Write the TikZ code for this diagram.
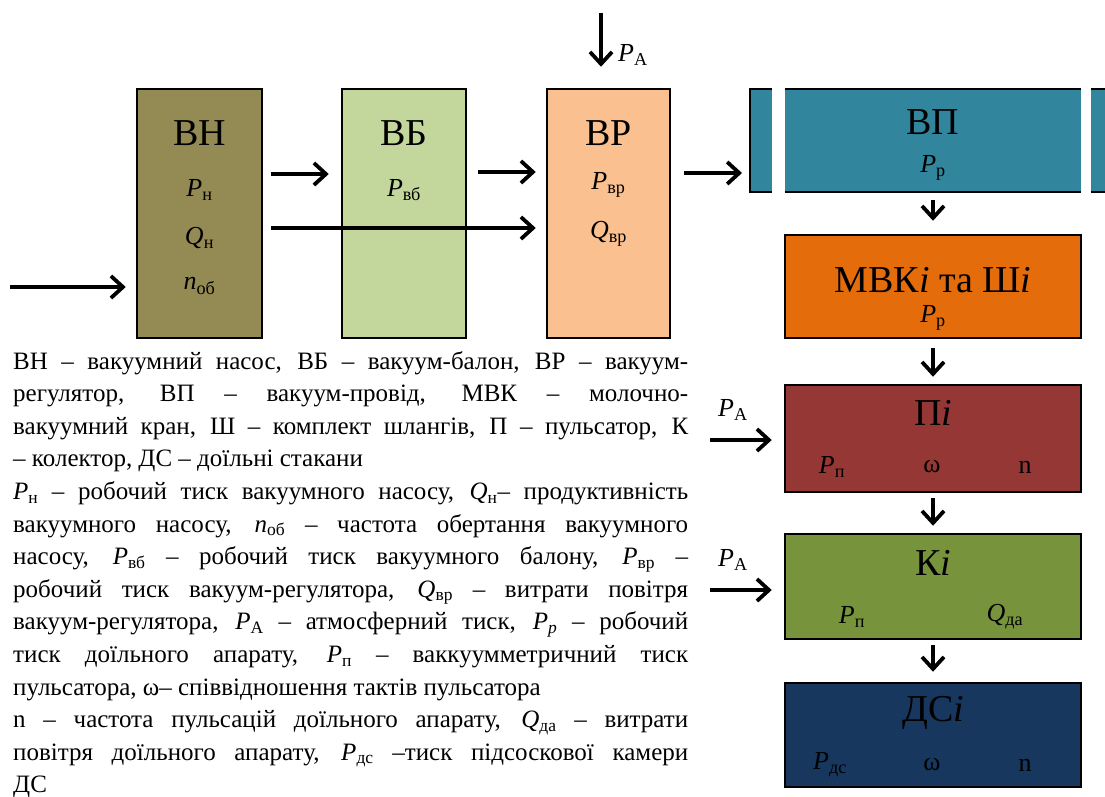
\documentclass[tikz,border=0pt]{standalone}
\usepackage{fontspec}
\setmainfont{Liberation Serif}
\usetikzlibrary{arrows.meta,calc}

\definecolor{vncol}{HTML}{948A54}
\definecolor{vbcol}{HTML}{C3D69B}
\definecolor{vrcol}{HTML}{FAC090}
\definecolor{vpcol}{HTML}{31859C}
\definecolor{mvkcol}{HTML}{E46C0A}
\definecolor{picol}{HTML}{953735}
\definecolor{kicol}{HTML}{77933C}
\definecolor{dscol}{HTML}{17375E}

\newcommand{\sy}[2]{\textit{#1}\textsubscript{#2}}

\begin{document}
\begin{tikzpicture}[x=1pt, y=-1pt,
		box/.style={rectangle, draw, line width=2.5pt, inner sep=0pt},
		big/.style={inner sep=1pt, font=\fontsize{38}{42}\selectfont},
		sym/.style={inner sep=1pt, font=\fontsize{26}{30}\selectfont},
		body/.style={anchor=base west, inner sep=0pt, font=\fontsize{25}{30}\selectfont},
		arr/.style={-{Straight Barb[length=12pt,width=22pt]}, line width=3.8pt}]
			\useasboundingbox (0,0) rectangle (1105,796);

			% Nodes
			\node[box, fill=vncol, minimum width=125pt, minimum height=249pt] (vn) at (199.5,213.5) {};
			\node[box, fill=vbcol, minimum width=124pt, minimum height=249pt] (vb) at (404,213.5) {};
			\node[box, fill=vrcol, minimum width=123pt, minimum height=249pt] (vr) at (608.5,213.5) {};
			\node[fill=vpcol, minimum width=296pt, minimum height=103pt, inner sep=0pt] (vp) at (933,140.5) {};
			\node[box, fill=mvkcol, minimum width=296pt, minimum height=103pt] (mvk) at (933,286.5) {};
			\node[box, fill=picol, minimum width=296pt, minimum height=107pt] (pi) at (933,438.5) {};
			\node[box, fill=kicol, minimum width=296pt, minimum height=105pt] (ki) at (933,586.5) {};
			\node[box, fill=dscol, minimum width=296pt, minimum height=104pt] (ds) at (933,735) {};

			% pipe ends
			\fill[vpcol] (750,89) rectangle (772,192);
			\fill[vpcol] (1091,89) rectangle (1105,192);
			\draw[line width=2.5pt] (772,89) -- (750,89) -- (750,192) -- (772,192);
			\draw[line width=2.5pt] (vp.north west) -- (vp.north east);
			\draw[line width=2.5pt] (vp.south west) -- (vp.south east);
			\draw[line width=2.5pt] (1105,89) -- (1091,89);
			\draw[line width=2.5pt] (1105,192) -- (1091,192);

			% Labels
			\node[big] (vnt) at (199.5,133) {ВН};
			\node[sym] (vnp) at (199.5,190) {\sy{P}{н}};
			\node[sym] (vnq) at (199.5,238) {\sy{Q}{н}};
			\node[sym] (vnn) at (199.5,286) {\sy{n}{об}};
			\node[big] (vbt) at (404,133) {ВБ};
			\node[sym] (vbp) at (404,190) {\sy{P}{вб}};
			\node[big] (vrt) at (608.5,133) {ВР};
			\node[sym] (vrp) at (608.5,185) {\sy{P}{вр}};
			\node[sym] (vrq) at (608.5,234) {\sy{Q}{вр}};
			\node[sym] (pat) at (633,55) {\sy{P}{А}};
			\node[big] (vpt) at (933,122) {ВП};
			\node[sym] (vpp) at (933,168) {\sy{P}{р}};
			\node[big] (mvkt) at (933,280) {МВК\textit{i} та Ш\textit{i}};
			\node[sym] (mvkp) at (933,318) {\sy{P}{р}};
			\node[big] (pit) at (933,413) {П\textit{i}};
			\node[sym] (pip) at (832,467) {\sy{P}{п}};
			\node[sym] (piw) at (932,467) {ω};
			\node[sym] (pin) at (1025,467) {n};
			\node[sym] (pal1) at (733,410) {\sy{P}{А}};
			\node[big] (kit) at (933,563) {К\textit{i}};
			\node[sym] (kip) at (852,617) {\sy{P}{п}};
			\node[sym] (kiq) at (1005,617) {\sy{Q}{да}};
			\node[sym] (pal2) at (733,560) {\sy{P}{А}};
			\node[big] (dst) at (933,713) {ДС\textit{i}};
			\node[sym] (dsp) at (830,765) {\sy{P}{дс}};
			\node[sym] (dsw) at (932,765) {ω};
			\node[sym] (dsn) at (1025,765) {n};

			% Edges
			\coordinate (in) at (10,287);
			\coordinate (pa) at (601,13);
			\coordinate (vpin) at (742,173);
			\coordinate (pa1) at (710,440);
			\coordinate (pa2) at (710,590);
			\draw[arr] (in) -- ($(vn.west)+(-10,73.5)$);
			\draw[arr] ($(vn.east)+(8,-39.5)$) -- ($(vb.west)+(-12,-39.5)$);
			\draw[arr] ($(vn.east)+(8,14.5)$) -- ($(vr.west)+(-10,14.5)$);
			\draw[arr] ($(vb.east)+(11,-41.5)$) -- ($(vr.west)+(-10,-41.5)$);
			\draw[arr] (pa) -- ($(vr.north)+(-7.5,-21)$);
			\draw[arr] ($(vr.east)+(13,-40.5)$) -- (vpin);
			\draw[arr] ($(vp.south)+(0,8)$) -- ($(mvk.north)+(0,-13)$);
			\draw[arr] ($(mvk.south)+(0,9)$) -- ($(pi.north)+(0,-7)$);
			\draw[arr] ($(pi.south)+(0,5)$) -- ($(ki.north)+(0,-7)$);
			\draw[arr] ($(ki.south)+(0,5)$) -- ($(ds.north)+(0,-10)$);
			\draw[arr] (pa1) -- ($(pi.west)+(-12,1.5)$);
			\draw[arr] (pa2) -- ($(ki.west)+(-12,3.5)$);

			% Text
			\node[body] (t1) at (13,369) {\makebox[675pt][s]{ВН – вакуумний насос, ВБ – вакуум-балон, ВР – вакуум-}};
			\node[body] (t2) at (13,401.6) {\makebox[675pt][s]{регулятор, ВП – вакуум-провід, МВК – молочно-}};
			\node[body] (t3) at (13,434.2) {\makebox[675pt][s]{вакуумний кран, Ш – комплект шлангів, П – пульсатор, К}};
			\node[body] (t4) at (13,466.8) {– колектор, ДС – доїльні стакани};
			\node[body] (t5) at (13,499.4) {\makebox[675pt][s]{\sy{P}{н} – робочий тиск вакуумного насосу, \sy{Q}{н}– продуктивність}};
			\node[body] (t6) at (13,532) {\makebox[675pt][s]{вакуумного насосу, \sy{n}{об} – частота обертання вакуумного}};
			\node[body] (t7) at (13,564.6) {\makebox[675pt][s]{насосу, \sy{P}{вб} – робочий тиск вакуумного балону, \sy{P}{вр} –}};
			\node[body] (t8) at (13,597.2) {\makebox[675pt][s]{робочий тиск вакуум-регулятора, \sy{Q}{вр} – витрати повітря}};
			\node[body] (t9) at (13,629.8) {\makebox[675pt][s]{вакуум-регулятора, \sy{P}{А} – атмосферний тиск, \sy{P}{\textit{p}} – робочий}};
			\node[body] (t10) at (13,662.4) {\makebox[675pt][s]{тиск доїльного апарату, \sy{P}{п} – ваккуумметричний тиск}};
			\node[body] (t11) at (13,695) {пульсатора, ω– співвідношення тактів пульсатора};
			\node[body] (t12) at (13,727.6) {\makebox[675pt][s]{n – частота пульсацій доїльного апарату, \sy{Q}{да} – витрати}};
			\node[body] (t13) at (13,760.2) {\makebox[675pt][s]{повітря доїльного апарату, \sy{P}{дс} –тиск підсоскової камери}};
			\node[body] (t14) at (13,792.8) {ДС};
		\end{tikzpicture}
\end{document}
